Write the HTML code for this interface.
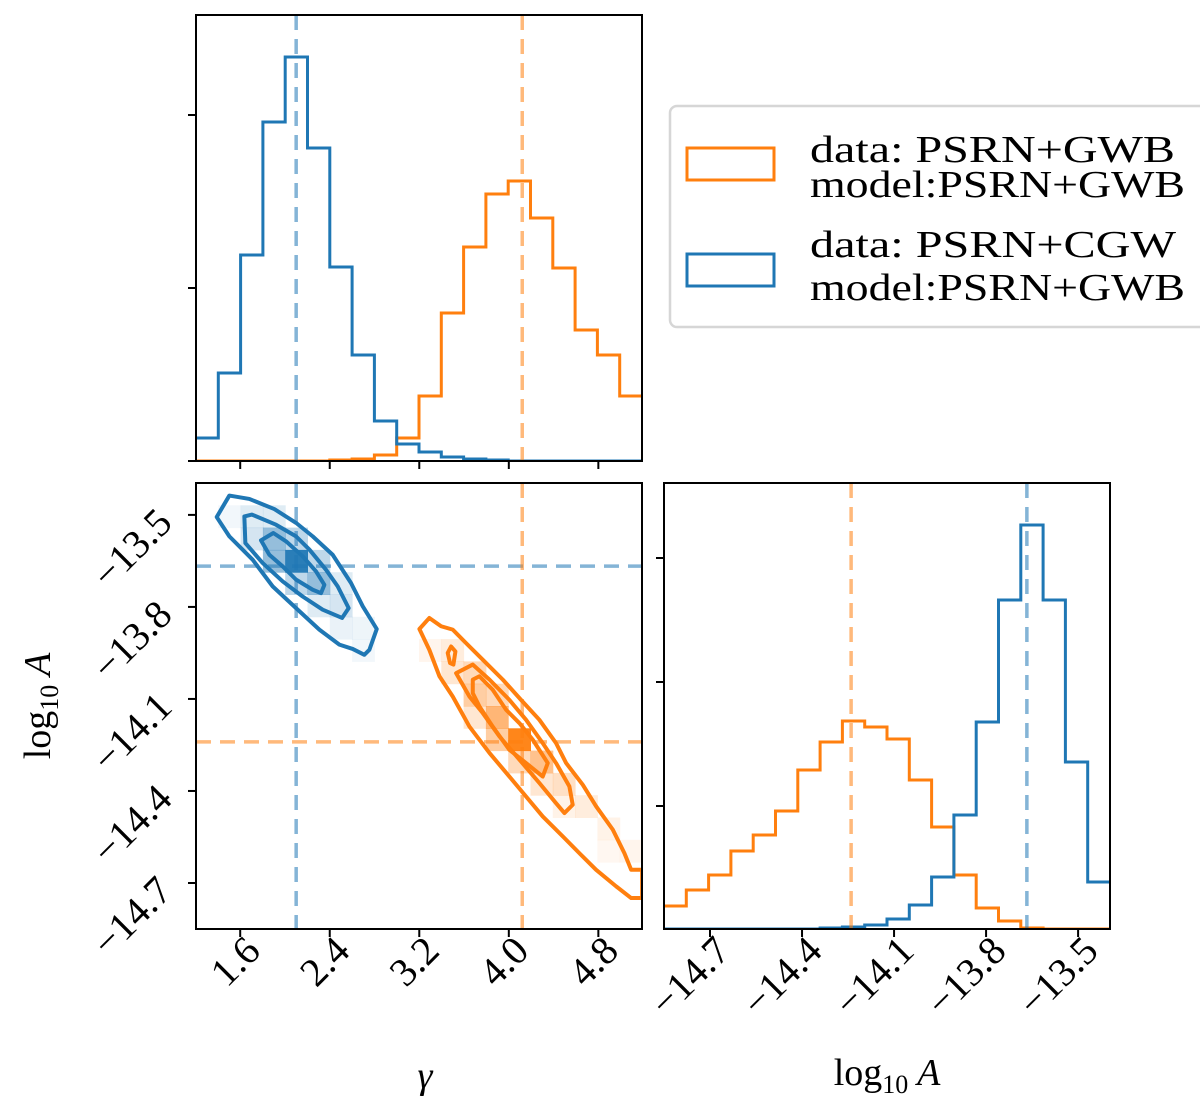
<!DOCTYPE html>
<html><head><meta charset="utf-8"><style>
html,body{margin:0;padding:0;background:#fff;}
svg{display:block;font-family:"Liberation Serif","DejaVu Serif",serif;}
</style></head><body>
<svg id="chart" width="1200" height="1106" viewBox="0 0 1200 1106" xmlns="http://www.w3.org/2000/svg">
<g id="g-cells"></g>
<g id="g-main"></g>
<g>
<rect x="670" y="106" width="545" height="221" rx="7" fill="#fff" stroke="#d6d6d6" stroke-width="2.5"/>
<rect x="687" y="148" width="87" height="32" fill="none" stroke="#ff7f0e" stroke-width="3"/>
<rect x="687" y="254" width="87" height="32" fill="none" stroke="#1f77b4" stroke-width="3"/>
<text x="810" y="162" font-size="38" textLength="365" lengthAdjust="spacingAndGlyphs">data:  PSRN+GWB</text>
<text x="810" y="197" font-size="38" textLength="375" lengthAdjust="spacingAndGlyphs">model:PSRN+GWB</text>
<text x="810" y="257" font-size="38" textLength="366" lengthAdjust="spacingAndGlyphs">data:  PSRN+CGW</text>
<text x="810" y="300" font-size="38" textLength="375" lengthAdjust="spacingAndGlyphs">model:PSRN+GWB</text>
</g>
<text x="425" y="1088" font-size="38" font-style="italic" text-anchor="middle">γ</text>
<text x="887" y="1085" font-size="38" text-anchor="middle">log<tspan font-size="26" dy="8">10</tspan><tspan dy="-8" font-style="italic"> A</tspan></text>
<text transform="translate(50,706) rotate(-90)" font-size="38" text-anchor="middle">log<tspan font-size="26" dy="8">10</tspan><tspan dy="-8" font-style="italic"> A</tspan></text>
</svg>
<script>
const gammaDomain=[1.205,5.19];
const logADomain=[-14.85,-13.396];
const gammaTicks=[1.6,2.4,3.2,4.0,4.8];
const gammaTickLabels=["1.6","2.4","3.2","4.0","4.8"];
const logATicks=[-14.7,-14.4,-14.1,-13.8,-13.5];
const logATickLabels=["\u221214.7","\u221214.4","\u221214.1","\u221213.8","\u221213.5"];
const gammaHistBlue=[23,88,206,339,404,313,194,106,40,17,9,4,2,1,0,0,0,0,0,0];
const gammaHistOrange=[0,0,0,0,0,0,1,2,6,23,65,148,214,267,280,243,193,131,106,65];
const gammaHistTicks=[173,346];
const logAHistOrange=[23,39,54,78,94,118,159,187,208,202,190,149,102,54,21,8,1,0,0,0];
const logAHistBlue=[0,0,0,0,0,0,0,1,2,4,10,24,52,114,207,329,404,329,167,47];
const logAHistTicks=[123,247,371];
const histMax=446;
const truthBlue=[2.10,-13.667];
const truthOrange=[4.12,-14.24];
const blueContours=[
[[1.503,-13.437],[1.682,-13.448],[1.905,-13.481],[2.099,-13.526],[2.248,-13.570],[2.426,-13.630],[2.590,-13.722],[2.695,-13.798],[2.820,-13.872],[2.754,-13.940],[2.709,-13.956],[2.605,-13.937],[2.486,-13.923],[2.307,-13.874],[2.099,-13.804],[1.890,-13.733],[1.711,-13.646],[1.503,-13.570],[1.390,-13.507]],
[[1.637,-13.505],[1.705,-13.499],[1.920,-13.532],[2.099,-13.570],[2.218,-13.613],[2.367,-13.679],[2.471,-13.733],[2.569,-13.804],[2.510,-13.836],[2.337,-13.809],[2.158,-13.766],[1.980,-13.717],[1.801,-13.657],[1.646,-13.592]],
[[1.786,-13.583],[1.896,-13.559],[2.009,-13.586],[2.158,-13.635],[2.277,-13.684],[2.352,-13.728],[2.322,-13.755],[2.248,-13.744],[2.099,-13.711],[1.980,-13.668],[1.860,-13.630]]
];
const orangeContours=[
[[3.201,-13.872],[3.290,-13.836],[3.395,-13.863],[3.499,-13.874],[3.618,-13.918],[3.767,-13.972],[3.946,-14.037],[4.109,-14.103],[4.273,-14.168],[4.422,-14.244],[4.512,-14.309],[4.661,-14.380],[4.780,-14.450],[4.929,-14.526],[5.033,-14.603],[5.093,-14.657],[5.191,-14.657],[5.191,-14.749],[5.093,-14.749],[4.959,-14.711],[4.780,-14.657],[4.631,-14.603],[4.482,-14.548],[4.303,-14.483],[4.154,-14.418],[4.005,-14.353],[3.827,-14.276],[3.648,-14.190],[3.499,-14.092],[3.380,-14.026],[3.290,-13.940]],
[[3.529,-14.016],[3.678,-13.988],[3.827,-14.037],[4.005,-14.103],[4.154,-14.168],[4.303,-14.244],[4.422,-14.309],[4.541,-14.385],[4.571,-14.445],[4.497,-14.472],[4.422,-14.440],[4.273,-14.374],[4.095,-14.298],[3.916,-14.222],[3.767,-14.146],[3.648,-14.092]],
[[3.678,-14.037],[3.737,-14.026],[3.856,-14.070],[3.975,-14.135],[4.095,-14.179],[4.214,-14.233],[4.348,-14.309],[4.303,-14.353],[4.154,-14.309],[4.005,-14.266],[3.856,-14.190],[3.737,-14.124],[3.678,-14.081]],
[[3.484,-13.929],[3.523,-13.945],[3.505,-13.988],[3.475,-13.983],[3.454,-13.950]]
];
const blueCells=[[4,3,1.0],[3,2,0.5],[4,2,0.3],[3,3,0.5],[5,4,0.5],[4,4,0.3],[2,1,0.15],[3,1,0.15],[5,3,0.3],[6,5,0.2],[5,5,0.15],[2,2,0.2],[6,6,0.1],[7,7,0.06],[1,1,0.06],[6,4,0.15],[7,6,0.08]];
const orangeCells=[[14,11,1],[13,10,0.6],[12,9,0.4],[13,11,0.4],[15,12,0.5],[14,12,0.3],[12,8,0.3],[11,8,0.2],[11,7,0.15],[16,13,0.25],[15,13,0.2],[17,14,0.15],[16,14,0.1],[18,15,0.1],[19,16,0.08],[18,16,0.06],[10,7,0.08],[12,10,0.2],[13,9,0.3]];

const NS="http://www.w3.org/2000/svg";
const svg=document.getElementById('chart');
const gMain=document.getElementById('g-main');
const gCells=document.getElementById('g-cells');
const BLUE="#1f77b4",ORANGE="#ff7f0e";
const P1={x0:196,x1:642,y0:15,y1:461};
const P2={x0:196,x1:642,y0:483,y1:929};
const P3={x0:664,x1:1110,y0:483,y1:929};
function gx(v,p){return p.x0+(v-gammaDomain[0])/(gammaDomain[1]-gammaDomain[0])*(p.x1-p.x0);}
function ax(v,p){return p.x0+(v-logADomain[0])/(logADomain[1]-logADomain[0])*(p.x1-p.x0);}
function ay(v,p){return p.y1-(v-logADomain[0])/(logADomain[1]-logADomain[0])*(p.y1-p.y0);}
function hy(v,p){return p.y1-v/histMax*(p.y1-p.y0);}
function mk(tag,attrs,parent){const e=document.createElementNS(NS,tag);for(const k in attrs)e.setAttribute(k,attrs[k]);(parent||gMain).appendChild(e);return e;}

const defs=mk('defs',{},svg);
[['c1',P1],['c2',P2],['c3',P3]].forEach(([id,p])=>{const c=mk('clipPath',{id:id},defs);mk('rect',{x:p.x0,y:p.y0,width:p.x1-p.x0,height:p.y1-p.y0},c);});

const nb=20;
function cells(list,color){
 const gw=(gammaDomain[1]-gammaDomain[0])/nb, lw=(logADomain[1]-logADomain[0])/nb;
 list.forEach(c=>{
  const g0=gammaDomain[0]+c[0]*gw, l1=logADomain[1]-c[1]*lw;
  const x=gx(g0,P2), y=ay(l1,P2);
  const r=mk('rect',{x:x,y:y,width:gx(g0+gw,P2)-x+0.5,height:ay(l1-lw,P2)-y+0.5,fill:color,'fill-opacity':c[2]*0.95},gCells);
  
  
 });
}
cells(blueCells,BLUE);cells(orangeCells,ORANGE);

function stepPath(vals,xf,p,dom){
 const w=(dom[1]-dom[0])/vals.length;let d='';
 vals.forEach((v,i)=>{const xa=xf(dom[0]+i*w,p),xb=xf(dom[0]+(i+1)*w,p),y=hy(v,p);d+=(i===0?'M':'L')+xa+','+y+' L'+xb+','+y+' ';});
 return d;
}
function hist(vals,color,xf,p,dom,name,clip){
 const e=mk('path',{d:stepPath(vals,xf,p,dom),fill:'none',stroke:color,'stroke-width':3,'clip-path':'url(#'+clip+')'});
 
 
}
hist(gammaHistOrange,ORANGE,gx,P1,gammaDomain,'gamma-hist-orange','c1');
hist(gammaHistBlue,BLUE,gx,P1,gammaDomain,'gamma-hist-blue','c1');
hist(logAHistOrange,ORANGE,ax,P3,logADomain,'log10a-hist-orange','c3');
hist(logAHistBlue,BLUE,ax,P3,logADomain,'log10a-hist-blue','c3');

function contours(list,color,name){
 list.forEach(poly=>{
  const pts=poly.map(q=>gx(q[0],P2)+','+ay(q[1],P2)).join(' ');
  const e=mk('polygon',{points:pts,fill:'none',stroke:color,'stroke-width':4,'stroke-linejoin':'round','clip-path':'url(#c2)'});
  
  
 });
}
contours(blueContours,BLUE,'contour-blue');
contours(orangeContours,ORANGE,'contour-orange');

function dline(x1,y1,x2,y2,color,name){
 const e=mk('line',{x1:x1,y1:y1,x2:x2,y2:y2,stroke:color,'stroke-opacity':0.55,'stroke-width':3.5,'stroke-dasharray':'15,9'});
 
 
}
[[truthBlue,BLUE,'blue'],[truthOrange,ORANGE,'orange']].forEach(([t,c,n])=>{
 dline(gx(t[0],P1),P1.y0,gx(t[0],P1),P1.y1,c,'truth-gamma-top-'+n);
 dline(gx(t[0],P2),P2.y0,gx(t[0],P2),P2.y1,c,'truth-gamma-'+n);
 dline(P2.x0,ay(t[1],P2),P2.x1,ay(t[1],P2),c,'truth-log10a-'+n);
 dline(ax(t[1],P3),P3.y0,ax(t[1],P3),P3.y1,c,'truth-log10a-hist-'+n);
});

[[P1,'top-left-frame'],[P2,'bottom-left-frame'],[P3,'bottom-right-frame']].forEach(([p,n])=>{
 const e=mk('rect',{x:p.x0,y:p.y0,width:p.x1-p.x0,height:p.y1-p.y0,fill:'none',stroke:'#000','stroke-width':2});
 
 
});

function tick(x1,y1,x2,y2,name){const e=mk('line',{x1:x1,y1:y1,x2:x2,y2:y2,stroke:'#000','stroke-width':2});}
function label(txt,x,y,name){
 const e=mk('text',{x:0,y:0,'font-size':40,'text-anchor':'end',transform:'translate('+x+','+y+') rotate(-45)'});
 e.textContent=txt;
 
 
}
gammaTicks.forEach((v,i)=>{
 const x1=gx(v,P1);tick(x1,P1.y1,x1,P1.y1+8,'top-x-tick');
 const x2=gx(v,P2);tick(x2,P2.y1,x2,P2.y1+8,'gamma-x-tick');
 label(gammaTickLabels[i],x2+22,P2.y1+24,'gamma-tick-label');
});
logATicks.forEach((v,i)=>{
 const y=ay(v,P2);tick(P2.x0-8,y,P2.x0,y,'log10a-y-tick');
 label(logATickLabels[i],P2.x0-22,y+10,'log10a-y-tick-label');
 const x=ax(v,P3);tick(x,P3.y1,x,P3.y1+8,'log10a-x-tick');
 label(logATickLabels[i],x+22,P3.y1+24,'log10a-x-tick-label');
});
gammaHistTicks.forEach(v=>{const y=hy(v,P1);tick(P1.x0-8,y,P1.x0,y,'top-y-tick');});
tick(P1.x0-8,P1.y1,P1.x0,P1.y1,'top-y-tick');
logAHistTicks.forEach(v=>{const y=hy(v,P3);tick(P3.x0-8,y,P3.x0,y,'right-y-tick');});
</script>
</body></html>
